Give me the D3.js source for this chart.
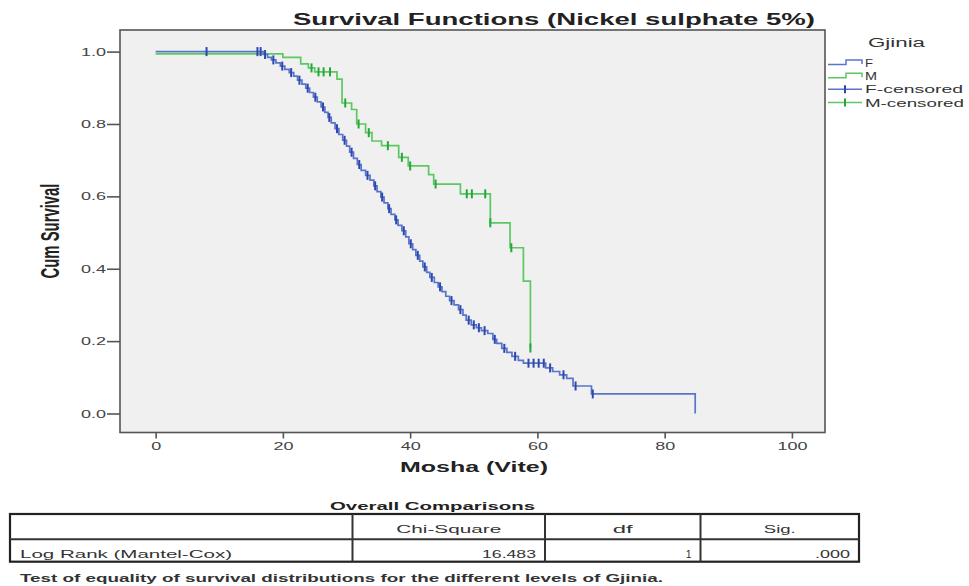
<!DOCTYPE html>
<html>
<head>
<meta charset="utf-8">
<script src="https://cdn.jsdelivr.net/npm/d3@7"></script>
<style>
  body { margin: 0; background: #fff; }
  text { font-family: "Liberation Sans", Arial, sans-serif; }
</style>
</head>
<body>
<svg id="chart" width="969" height="586"></svg>
<script>
// F (blue) Kaplan-Meier steps
var fTimes = [0, 16.9, 17.6, 18.2, 18.9, 19.6, 20.3, 21.0, 21.7, 22.3, 23.0, 23.6, 24.2, 24.8, 25.4, 26.0, 26.6, 27.1, 27.6, 28.2, 28.8, 29.4, 30.0, 30.5, 31.1, 31.7, 32.3, 33.0, 33.7, 34.3, 34.8, 35.4, 35.9, 36.5, 37.0, 37.6, 38.1, 38.7, 39.3, 39.8, 40.4, 40.9, 41.5, 42.0, 42.6, 43.1, 43.8, 44.4, 45.0, 45.6, 46.2, 46.9, 47.6, 48.3, 48.8, 49.6, 50.4, 51.2, 52.2, 53.0, 53.6, 54.4, 55.2, 56.0, 57.0, 57.8, 61.3, 62.4, 63.5, 64.6, 65.6, 68.5, 84.8];
var fSurv = [1, 0.992, 0.984, 0.977, 0.969, 0.96, 0.951, 0.942, 0.932, 0.921, 0.91, 0.899, 0.887, 0.874, 0.861, 0.847, 0.832, 0.818, 0.803, 0.787, 0.771, 0.755, 0.739, 0.722, 0.705, 0.688, 0.672, 0.658, 0.645, 0.629, 0.613, 0.598, 0.582, 0.566, 0.55, 0.535, 0.52, 0.505, 0.488, 0.469, 0.453, 0.437, 0.421, 0.405, 0.39, 0.376, 0.362, 0.35, 0.337, 0.324, 0.312, 0.3, 0.287, 0.272, 0.258, 0.245, 0.237, 0.229, 0.221, 0.205, 0.194, 0.18, 0.169, 0.158, 0.147, 0.139, 0.126, 0.116, 0.107, 0.097, 0.076, 0.054, 0];
var fCensor = [8, 16.0, 16.5, 17.2, 18.5, 19.9, 21.3, 22.6, 23.9, 25.1, 26.3, 27.3, 28.5, 29.7, 30.8, 32.0, 33.3, 34.5, 35.6, 36.7, 37.8, 39.0, 40.1, 41.2, 42.3, 43.4, 44.7, 46.5, 47.9, 49.2, 50.0, 50.8, 51.7, 53.3, 54.8, 56.5, 58.6, 59.4, 60.2, 61.0, 62.0, 64.1, 66.0, 68.7];

// M (green) Kaplan-Meier steps
var mTimes = [0, 20.0, 22.8, 24.0, 25.0, 28.5, 29.3, 30.8, 31.6, 33.0, 34.0, 35.5, 38.2, 39.7, 42.9, 43.7, 47.9, 52.6, 55.7, 57.8, 58.9];
var mSurv = [0.994, 0.984, 0.966, 0.955, 0.944, 0.924, 0.858, 0.84, 0.8, 0.776, 0.753, 0.74, 0.708, 0.684, 0.66, 0.634, 0.607, 0.527, 0.458, 0.366, 0.181];
var mCensor = [24.5, 25.6, 26.4, 27.4, 29.8, 31.9, 33.5, 36.5, 38.7, 40.0, 44.0, 48.9, 49.7, 51.8, 52.6, 55.9, 58.9];

var xTicks = [0, 20, 40, 60, 80, 100];
var yTicks = [0, 0.2, 0.4, 0.6, 0.8, 1.0];

var legendLabels = ['F', 'M', 'F-censored', 'M-censored'];
var legendWidths = [8, 12, 98, 99];

var tableHeader = ['', 'Chi-Square', 'df', 'Sig.'];
var tableRow = ['Log Rank (Mantel-Cox)', '16.483', '1', '.000'];

var blueLine = '#5a74cc', blueMark = '#2c48ad';
var greenLine = '#5cc862', greenMark = '#25a83a';

var svg = d3.select('#chart');

var x = d3.scaleLinear().domain([-5.6, 105.2]).range([120, 825]);
var y = d3.scaleLinear().domain([-0.0525, 1.0597]).range([432.5, 30]);

function stretch(sel, k) {
	sel.each(function () {
		var w = this.getComputedTextLength();
		d3.select(this).attr('textLength', w * k).attr('lengthAdjust', 'spacingAndGlyphs');
	});
}

// title
svg.append('text')
	.attr('x', 293).attr('y', 25)
	.attr('font-size', 17).attr('font-weight', 'bold').attr('fill', '#222')
	.attr('textLength', 522).attr('lengthAdjust', 'spacingAndGlyphs')
	.text('Survival Functions (Nickel sulphate 5%)');

// plot frame
svg.append('rect')
	.attr('x', 120).attr('y', 30).attr('width', 705).attr('height', 402.5)
	.attr('fill', '#f0f0f0').attr('stroke', '#555').attr('stroke-width', 1.6);

// axes
var yAxis = svg.append('g').attr('transform', 'translate(120,0)')
	.call(d3.axisLeft(y).tickValues(yTicks).tickFormat(d3.format('.1f')).tickSize(13).tickPadding(1));
var xAxis = svg.append('g').attr('transform', 'translate(0,432.5)')
	.call(d3.axisBottom(x).tickValues(xTicks).tickSize(6).tickPadding(4));

[yAxis, xAxis].forEach(function (ax) {
	ax.select('.domain').remove();
	ax.selectAll('.tick line').attr('stroke', '#555').attr('stroke-width', 1.6);
	ax.selectAll('.tick text').attr('font-size', 10).attr('fill', '#444')
		.attr('font-family', '"Liberation Sans", Arial, sans-serif');
});
yAxis.selectAll('.tick text').attr('dy', '0.36em');
xAxis.selectAll('.tick text').attr('dy', '0.72em');
stretch(yAxis.selectAll('.tick text'), 1.8);
stretch(xAxis.selectAll('.tick text'), 1.8);

// axis titles
svg.append('text')
	.attr('transform', 'translate(59,231) rotate(-90)')
	.attr('text-anchor', 'middle')
	.attr('font-size', 26).attr('font-weight', 'bold').attr('fill', '#222')
	.attr('textLength', 95).attr('lengthAdjust', 'spacingAndGlyphs')
	.text('Cum Survival');

svg.append('text')
	.attr('x', 474).attr('y', 472).attr('text-anchor', 'middle')
	.attr('font-size', 14).attr('font-weight', 'bold').attr('fill', '#222')
	.attr('textLength', 148).attr('lengthAdjust', 'spacingAndGlyphs')
	.text('Mosha (Vite)');

// curves
function points(times, surv) {
	return times.map(function (t, i) { return [t, surv[i]]; });
}

function survAt(times, surv, t) {
	return surv[d3.bisectRight(times, t) - 1];
}

var step = d3.line()
	.x(function (d) { return x(d[0]); })
	.y(function (d) { return y(d[1]); })
	.curve(d3.curveStepAfter);

function drawCurve(times, surv, censor, lineColor, markColor) {
	var g = svg.append('g');

	g.append('path')
		.datum(points(times, surv))
		.attr('d', step)
		.attr('fill', 'none')
		.attr('stroke', lineColor)
		.attr('stroke-width', 1.7);

	g.selectAll('line')
		.data(censor)
		.enter().append('line')
		.attr('x1', function (d) { return x(d); })
		.attr('x2', function (d) { return x(d); })
		.attr('y1', function (d) { return y(survAt(times, surv, d)) - 4.5; })
		.attr('y2', function (d) { return y(survAt(times, surv, d)) + 4.5; })
		.attr('stroke', markColor)
		.attr('stroke-width', 2);
}

drawCurve(mTimes, mSurv, mCensor, greenLine, greenMark);
drawCurve(fTimes, fSurv, fCensor, blueLine, blueMark);

// legend
svg.append('text')
	.attr('x', 868).attr('y', 47)
	.attr('font-size', 12).attr('fill', '#333')
	.attr('textLength', 57).attr('lengthAdjust', 'spacingAndGlyphs')
	.text('Gjinia');

var legendColors = [blueLine, greenLine, blueLine, greenLine];
var legendMarks = [blueMark, greenMark, blueMark, greenMark];
var legendY = d3.scalePoint().domain(legendLabels).range([62.5, 102.5]);

var legend = svg.selectAll('.legend-item')
	.data(legendLabels)
	.enter().append('g')
	.attr('class', 'legend-item')
	.attr('transform', function (d) { return 'translate(0,' + legendY(d) + ')'; });

legend.each(function (d, i) {
	var item = d3.select(this);

	if (i < 2) {
		item.append('path')
			.attr('d', 'M828,2H846V-2.5H862V1.5')
			.attr('fill', 'none').attr('stroke', legendColors[i]).attr('stroke-width', 1.5);
	} else {
		item.append('line')
			.attr('x1', 828).attr('x2', 862).attr('y1', 0).attr('y2', 0)
			.attr('stroke', legendColors[i]).attr('stroke-width', 1.5);
		item.append('line')
			.attr('x1', 845).attr('x2', 845).attr('y1', -4).attr('y2', 4)
			.attr('stroke', legendMarks[i]).attr('stroke-width', 2);
	}

	item.append('text')
		.attr('x', 865).attr('y', 4)
		.attr('font-size', 10).attr('fill', '#333')
		.attr('textLength', legendWidths[i]).attr('lengthAdjust', 'spacingAndGlyphs')
		.text(d);
});

// comparison table
var colEdges = [10, 352.5, 545, 700.5, 859];
var rowEdges = [514, 539.3, 561.7];

svg.append('text')
	.attr('x', 432.5).attr('y', 510).attr('text-anchor', 'middle')
	.attr('font-size', 11).attr('font-weight', 'bold').attr('fill', '#222')
	.attr('textLength', 205).attr('lengthAdjust', 'spacingAndGlyphs')
	.text('Overall Comparisons');

var table = svg.append('g');

table.append('rect')
	.attr('x', colEdges[0]).attr('y', rowEdges[0])
	.attr('width', colEdges[4] - colEdges[0]).attr('height', rowEdges[2] - rowEdges[0])
	.attr('fill', 'none').attr('stroke', '#222').attr('stroke-width', 2.2);

table.append('line')
	.attr('x1', colEdges[0]).attr('x2', colEdges[4])
	.attr('y1', rowEdges[1]).attr('y2', rowEdges[1])
	.attr('stroke', '#333').attr('stroke-width', 2);

table.selectAll('.col-line')
	.data(colEdges.slice(1, 4))
	.enter().append('line')
	.attr('class', 'col-line')
	.attr('x1', function (d) { return d; }).attr('x2', function (d) { return d; })
	.attr('y1', rowEdges[0]).attr('y2', rowEdges[2])
	.attr('stroke', '#333').attr('stroke-width', 2);

var headerWidths = [0, 105, 20, 32];
table.selectAll('.head')
	.data(tableHeader)
	.enter().append('text')
	.attr('class', 'head')
	.attr('x', function (d, i) { return (colEdges[i] + colEdges[i + 1]) / 2; })
	.attr('y', 533)
	.attr('text-anchor', 'middle')
	.attr('font-size', 10.5).attr('fill', '#333')
	.filter(function (d) { return d !== ''; })
	.attr('textLength', function (d) { return headerWidths[tableHeader.indexOf(d)]; })
	.attr('lengthAdjust', 'spacingAndGlyphs')
	.text(function (d) { return d; });

var rowWidths = [212, 54, 0, 35];
table.selectAll('.cell')
	.data(tableRow)
	.enter().append('text')
	.attr('class', 'cell')
	.attr('x', function (d, i) { return i === 0 ? 20 : colEdges[i + 1] - 9; })
	.attr('y', 557.5)
	.attr('text-anchor', function (d, i) { return i === 0 ? 'start' : 'end'; })
	.attr('font-size', 10.5).attr('fill', '#333')
	.text(function (d) { return d; })
	.filter(function (d, i) { return rowWidths[tableRow.indexOf(d)] > 0; })
	.attr('textLength', function (d) { return rowWidths[tableRow.indexOf(d)]; })
	.attr('lengthAdjust', 'spacingAndGlyphs');

svg.append('text')
	.attr('x', 20).attr('y', 581.5)
	.attr('font-size', 11).attr('font-weight', 'bold').attr('fill', '#333')
	.attr('textLength', 643).attr('lengthAdjust', 'spacingAndGlyphs')
	.text('Test of equality of survival distributions for the different levels of Gjinia.');
</script>
</body>
</html>
